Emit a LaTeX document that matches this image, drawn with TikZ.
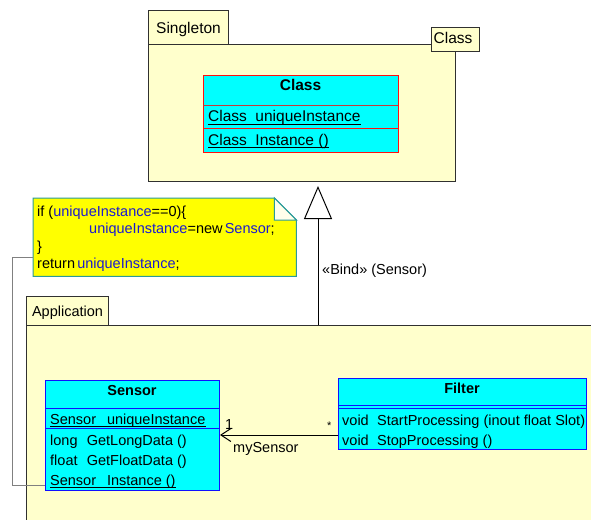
\documentclass[tikz,border=0pt]{standalone}
\usepackage{fontspec}
\setmainfont{Liberation Sans}
\usetikzlibrary{arrows.meta,calc}
\definecolor{pkgfill}{HTML}{FFFFCC}
\definecolor{clsfill}{HTML}{00FFFF}
\definecolor{notefill}{HTML}{FFFF00}
\definecolor{noteline}{HTML}{2A9A9A}
\definecolor{codeblue}{HTML}{1A1AD0}
\definecolor{pkgline}{HTML}{303030}
\definecolor{clsred}{HTML}{FF1010}
\definecolor{clsblue}{HTML}{1010FF}
\begin{document}
\begin{tikzpicture}[x=1pt,y=-1pt,
  font=\fontsize{14.5}{17}\selectfont,
  big/.style={font=\fontsize{15.5}{18}\selectfont},
  pkgtab/.style={draw=pkgline, fill=pkgfill, line width=1pt, inner sep=0pt, anchor=north west},
  pkgbody/.style={fill=pkgfill, inner sep=0pt, anchor=north west},
  pkgedge/.style={draw=pkgline, line width=1pt},
  pkglbl/.style={inner sep=0pt, anchor=base},
  clsbox/.style={fill=clsfill, line width=1pt, inner sep=0pt, anchor=north west},
  hdr/.style={inner sep=0pt, anchor=base, font=\fontsize{14.5}{17}\selectfont\bfseries},
  bighdr/.style={inner sep=0pt, anchor=base, font=\fontsize{15.5}{18}\selectfont\bfseries},
  lbl/.style={inner sep=0pt, anchor=base west},
  ulline/.style={draw=black, line width=1.2pt},
  notelink/.style={draw=gray, line width=0.8pt},
  assoc/.style={draw=black, line width=1pt, -{Straight Barb[length=10pt,width=13pt]}},
  realize/.style={draw=black, line width=1pt, -{Triangle[open,length=33pt,width=28pt,line width=1pt]}}
]
\useasboundingbox (0,0) rectangle (591,520);
\fill[white] (0,0) rectangle (591,520);

% ---------- Singleton package ----------
\node[pkgbody, draw=pkgline, line width=1pt, minimum width=307pt, minimum height=137pt] (single) at (148,44) {};
\node[pkgtab, minimum width=80pt, minimum height=34pt] (singletab) at (148,10) {};
\node[pkglbl, big] (singlelbl) at (188.5,33) {Singleton};
\node[pkgtab, minimum width=48pt, minimum height=24pt] (param) at (431,27) {};
\node[pkglbl, big] (paramlbl) at (453,43.5) {Class};

% Class box
\node[clsbox, draw=clsred, minimum width=195pt, minimum height=77pt] (cls) at (203,75) {};
\draw[draw=red!55!gray, line width=1pt] ($(cls.north west)+(0,30)$) -- ++(195,0);
\draw[draw=clsred, line width=1pt] ($(cls.north west)+(0,53)$) -- ++(195,0);
\node[bighdr] (clsname) at (300.5,90) {Class};
\node[lbl, big] (clsattr) at (208,121.5) {Class\hspace{0.55em}uniqueInstance};
\draw[ulline] ([yshift=-3pt]clsattr.base west) -- ([yshift=-3pt]clsattr.base east);
\node[lbl, big] (clsop) at (208,145) {Class\hspace{0.55em}Instance ()};
\draw[ulline] ([yshift=-2.5pt]clsop.base west) -- ([yshift=-2.5pt]clsop.base east);

% ---------- Application package ----------
\node[pkgbody, minimum width=565pt, minimum height=195pt] (app) at (26,325) {};
\draw[pkgedge] (app.north east) -- (app.north west) -- (app.south west);
\node[pkgtab, minimum width=82pt, minimum height=29pt] (apptab) at (26,296) {};
\node[pkglbl] (applbl) at (67.5,316.5) {Application};

% Sensor
\node[clsbox, draw=clsblue, minimum width=174pt, minimum height=110pt] (sen) at (45,380) {};
\draw[draw=clsblue, line width=1pt] ($(sen.north west)+(0,28)$) -- ++(174,0);
\draw[draw=clsblue, line width=1pt] ($(sen.north west)+(0,48)$) -- ++(174,0);
\node[hdr] (senname) at (132,395) {Sensor};
\node[lbl] (senattr) at (50,424) {Sensor\hspace{0.75em}uniqueInstance};
\draw[ulline] ([yshift=-2.5pt]senattr.base west) -- ([yshift=-2.5pt]senattr.base east);
\node[lbl] (senop1) at (50,445) {long\hspace{0.36em} GetLongData ()};
\node[lbl] (senop2) at (50,465.5) {float\hspace{0.36em} GetFloatData ()};
\node[lbl] (senop3) at (50,485) {Sensor\hspace{0.75em}Instance ()};
\draw[ulline] ([yshift=-2.5pt]senop3.base west) -- ([yshift=-2.5pt]senop3.base east);

% Filter
\node[clsbox, draw=clsblue, minimum width=248pt, minimum height=71pt] (fil) at (338,378) {};
\draw[draw=clsblue, line width=1pt] ($(fil.north west)+(0,27)$) -- ++(248,0);
\draw[draw=clsblue, line width=1pt] ($(fil.north west)+(0,30)$) -- ++(248,0);
\node[hdr] (filname) at (462,393.5) {Filter};
\node[lbl] (filop1) at (342,425) {void\hspace{0.3em} StartProcessing (inout float Slot)};
\node[lbl] (filop2) at (342,445) {void\hspace{0.3em} StopProcessing ()};

% ---------- Note ----------
\node[inner sep=0pt, anchor=north west, minimum width=263pt, minimum height=78pt] (note) at (33,198) {};
\draw[draw=noteline, fill=notefill, line width=1pt]
  (note.north west) -- ($(note.north east)+(-22,0)$) -- ($(note.north east)+(0,22)$)
  -- (note.south east) -- (note.south west) -- cycle;
\draw[draw=noteline, fill=pkgfill!40!white, line width=1pt]
  ($(note.north east)+(-22,0)$) -- ($(note.north east)+(-22,22)$) -- ($(note.north east)+(0,22)$) -- cycle;
\node[lbl] (n1) at (37,216.5) {if (\textcolor{codeblue}{uniqueInstance}==0)\{};
\node[lbl] (n2) at (89,233.5) {\textcolor{codeblue}{uniqueInstance}=new\hspace{0.15em}\textcolor{codeblue}{Sensor};};
\node[lbl] (n3) at (37,251) {\}};
\node[lbl] (n4) at (37,268.5) {return\hspace{0.15em}\textcolor{codeblue}{uniqueInstance};};

% note link
\draw[notelink] ($(note.south west)+(0,-19)$) -- ++(-21,0) |- ($(sen.south west)+(0,-6)$);

% ---------- Connectors ----------
\coordinate (bx) at (318,0);
\coordinate (ay) at (0,435);
\draw[realize] (app.north -| bx) -- ([yshift=-4pt]single.south -| bx);
\node[lbl] (bindlbl) at (322,274) {«Bind» (Sensor)};

\draw[assoc] (fil.west |- ay) -- (sen.east |- ay);
\node[lbl] (m1) at (225,429.5) {1};
\node[lbl] (role) at (233,452.5) {mySensor};
\node[lbl, font=\fontsize{11}{12}\selectfont] (mstar) at (327,429) {*};
\end{tikzpicture}
\end{document}
